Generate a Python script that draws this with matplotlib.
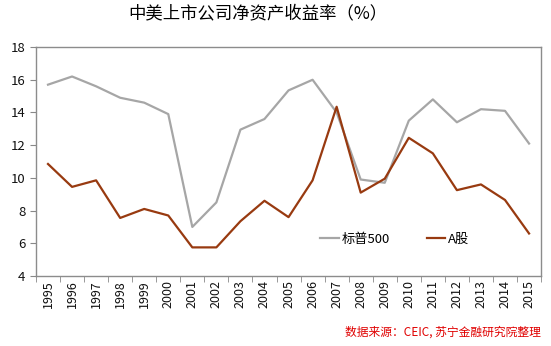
import matplotlib.pyplot as plt
import numpy as np

plt.rcParams['font.family'] = ['Noto Sans CJK SC', 'DejaVu Sans']

years = [str(y) for y in range(1995, 2016)]
sp500 = [15.7, 16.2, 15.6, 14.9, 14.6, 13.9, 7.0, 8.5, 12.95, 13.6, 15.35,
         16.0, 14.0, 9.9, 9.7, 13.5, 14.8, 13.4, 14.2, 14.1, 12.1]
a_share = [10.85, 9.45, 9.85, 7.55, 8.1, 7.7, 5.75, 5.75, 7.35, 8.6, 7.6,
           9.85, 14.35, 9.1, 9.95, 12.45, 11.5, 9.25, 9.6, 8.65, 6.6]

fig = plt.figure(figsize=(5.51, 3.46), dpi=100)
ax = fig.add_axes([0.0653, 0.2023, 0.9167, 0.6617])

x = np.arange(len(years))
ax.plot(x, sp500, color='#a6a6a6', lw=1.6, label='标普500')
ax.plot(x, a_share, color='#983a10', lw=1.6, label='A股')

ax.set_xlim(-0.5, len(years) - 0.5)
ax.set_ylim(4, 18)
ax.set_yticks(range(4, 19, 2))
ax.set_xticks(x)
ax.set_xticklabels(years, rotation=90, fontsize=9, color='#111111')
ax.set_xticks(np.arange(-0.5, len(years), 1), minor=True)
ax.tick_params(axis='x', which='major', length=0, pad=3)
ax.tick_params(axis='x', which='minor', length=4, color='#888888', direction='out')
ax.tick_params(axis='y', length=4, color='#888888', labelsize=9.5, labelcolor='#111111')
for s in ax.spines.values():
    s.set_color('#8c8c8c')
    s.set_linewidth(1.0)

ax.legend(loc='center', bbox_to_anchor=(0.71, 0.16), ncols=2, frameon=False,
          fontsize=9.5, handlelength=1.4, columnspacing=2.8, handletextpad=0.2)

fig.text(0.468, 0.962, '中美上市公司净资产收益率（%）', ha='center', va='center',
         fontsize=12.5)
fig.text(0.982, 0.04, '数据来源：CEIC, 苏宁金融研究院整理', ha='right', va='center',
         fontsize=8.5, color='#e00000', style='italic')

fig.savefig('out.png', dpi=100)
